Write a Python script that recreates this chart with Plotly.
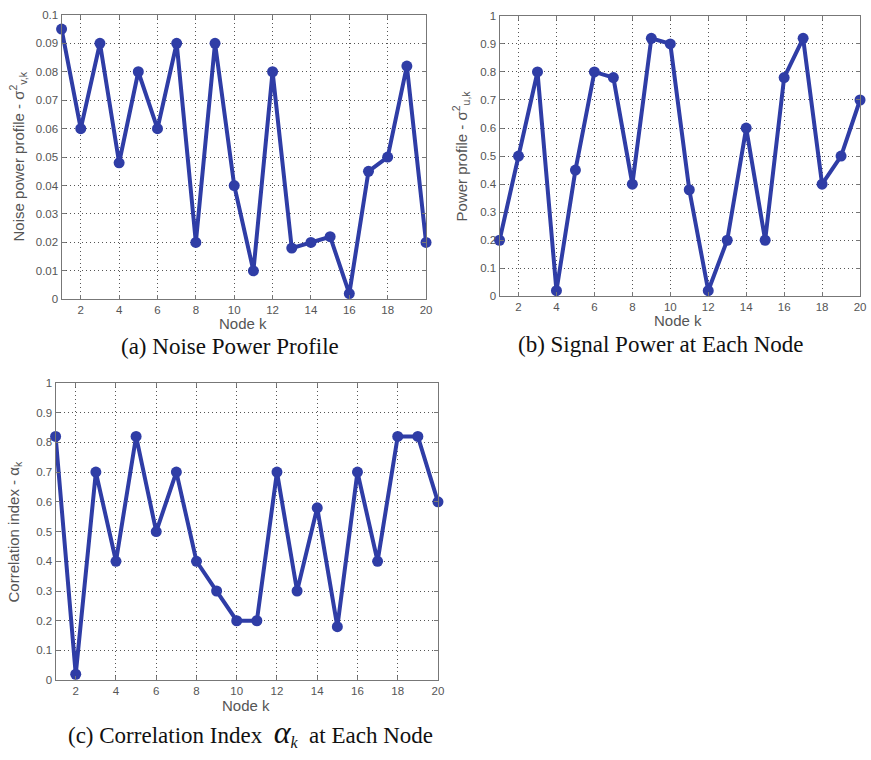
import plotly.graph_objects as go

nodes = list(range(1, 21))
noise_power = [0.095, 0.06, 0.09, 0.048, 0.08, 0.06, 0.09, 0.02, 0.09, 0.04,
               0.01, 0.08, 0.018, 0.02, 0.022, 0.002, 0.045, 0.05, 0.082, 0.02]
signal_power = [0.2, 0.5, 0.8, 0.02, 0.45, 0.8, 0.78, 0.4, 0.92, 0.9,
                0.38, 0.02, 0.2, 0.6, 0.2, 0.78, 0.92, 0.4, 0.5, 0.7]
corr_index = [0.82, 0.02, 0.7, 0.4, 0.82, 0.5, 0.7, 0.4, 0.3, 0.2,
              0.2, 0.7, 0.3, 0.58, 0.18, 0.7, 0.4, 0.82, 0.82, 0.6]
x_ticks = [2, 4, 6, 8, 10, 12, 14, 16, 18, 20]
y_ticks_a = [0, 0.01, 0.02, 0.03, 0.04, 0.05, 0.06, 0.07, 0.08, 0.09, 0.1]
y_ticks_bc = [0, 0.1, 0.2, 0.3, 0.4, 0.5, 0.6, 0.7, 0.8, 0.9, 1]

W, H = 871, 760
BLUE = "#2f3da6"

def px_x(p):
    return p / W

def px_y(p):
    return 1 - p / H

fig = go.Figure()

panels = [
    dict(y=noise_power, xa="x", ya="y", box=(62, 429, 9, 298), yr=[0, 0.1], yt=y_ticks_a),
    dict(y=signal_power, xa="x2", ya="y2", box=(503, 866, 10, 295), yr=[0, 1], yt=y_ticks_bc),
    dict(y=corr_index, xa="x3", ya="y3", box=(56, 441, 383, 685), yr=[0, 1], yt=y_ticks_bc),
]

layout = {}
for i, p in enumerate(panels):
    fig.add_trace(go.Scatter(
        x=nodes, y=p["y"], xaxis=p["xa"], yaxis=p["ya"], mode="lines+markers",
        line=dict(color=BLUE, width=4),
        marker=dict(color=BLUE, size=11, symbol="circle"),
        cliponaxis=False, showlegend=False, hoverinfo="skip"))
    l, r, t, b = p["box"]
    suffix = "" if i == 0 else str(i + 1)
    common = dict(showgrid=True, gridcolor="#555", griddash="1px,3px", gridwidth=1,
                  showline=True, linecolor="#777", linewidth=1.2, mirror="allticks",
                  ticks="inside", ticklen=4, tickcolor="#777", zeroline=False,
                  tickfont=dict(family="Liberation Sans, Arial", size=11.5, color="#555"))
    layout["xaxis" + suffix] = dict(domain=[px_x(l), px_x(r)], range=[1, 20],
                                    tickvals=x_ticks, anchor="y" + suffix, **common)
    layout["yaxis" + suffix] = dict(domain=[px_y(b), px_y(t)], range=p["yr"],
                                    tickvals=p["yt"], ticktext=[f"{v:g}" for v in p["yt"]],
                                    anchor="x" + suffix, **common)

fig.update_layout(width=W, height=H, margin=dict(l=0, r=0, t=0, b=0),
                  paper_bgcolor="white", plot_bgcolor="white", **layout)

label_font = dict(family="Liberation Sans, Arial", size=15, color="#555")
cap_font = dict(family="'Liberation Serif', 'Times New Roman', serif", size=23, color="#111")

annotations = [
    # x titles
    dict(text="Node k", x=px_x(245), y=px_y(323), font=label_font),
    dict(text="Node k", x=px_x(683), y=px_y(320), font=label_font),
    dict(text="Node k", x=px_x(248), y=px_y(711), font=label_font),
    # y titles
    dict(text="Noise power profile - σ<sup>2</sup><sub>v,k</sub>", x=px_x(18), y=px_y(153),
         textangle=-90, font=label_font),
    dict(text="Power profile - σ<sup>2</sup><sub>u,k</sub>", x=px_x(464), y=px_y(152),
         textangle=-90, font=label_font),
    dict(text="Correlation index - α<sub>k</sub>", x=px_x(15), y=px_y(534),
         textangle=-90, font=label_font),
    # captions
    dict(text="(a) Noise Power Profile", x=px_x(232), y=px_y(346), font=cap_font),
    dict(text="(b) Signal Power at Each Node", x=px_x(666), y=px_y(344), font=cap_font),
    dict(text="(c) Correlation Index  <i><span style='font-size:32px'>α</span><sub>k</sub></i>  at Each Node",
         x=px_x(252), y=px_y(738), font=cap_font),
]
for a in annotations:
    a.update(xref="paper", yref="paper", showarrow=False, xanchor="center", yanchor="middle")
fig.update_layout(annotations=annotations)

fig.write_html("out.html")
